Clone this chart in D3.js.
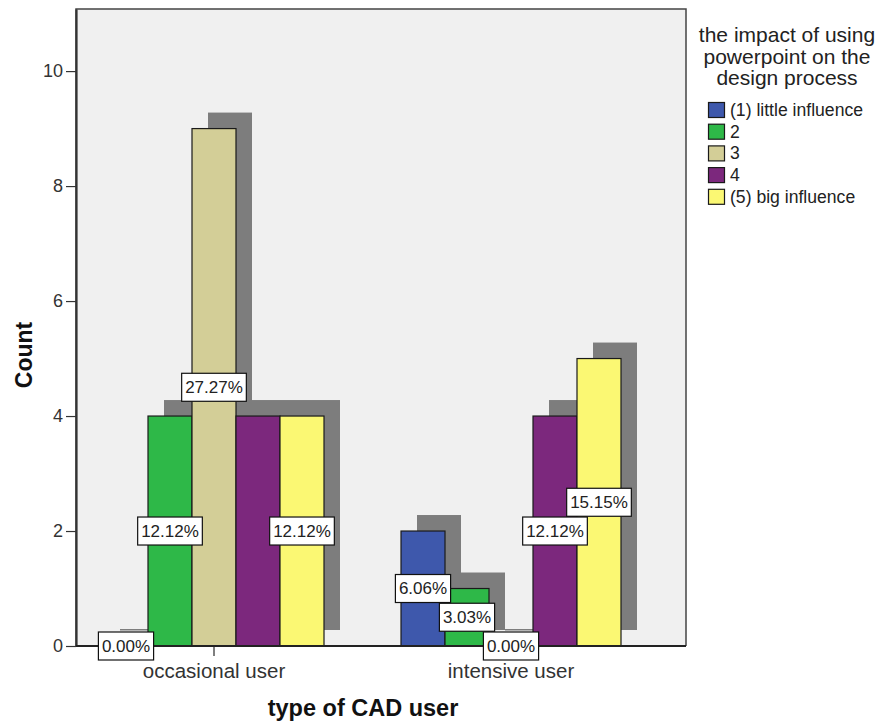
<!DOCTYPE html>
<html>
<head>
<meta charset="utf-8">
<script src="https://cdn.jsdelivr.net/npm/d3@7"></script>
<style>
  html, body { margin: 0; padding: 0; background: #fff; }
  svg { display: block; font-family: "Liberation Sans", Arial, sans-serif; }
</style>
</head>
<body>
<svg id="chart" width="889" height="723"></svg>
<script>
// Clustered bar chart: count of respondents by CAD user type and rated impact of PowerPoint
const categories = ["occasional user", "intensive user"];
const seriesNames = ["(1) little influence", "2", "3", "4", "(5) big influence"];
const seriesColors = ["#3E58AC", "#2EB848", "#D3CE97", "#7C287D", "#FBF873"];
const occasionalCounts = [0, 4, 9, 4, 4];
const intensiveCounts = [2, 1, 0, 4, 5];
const yTicks = [0, 2, 4, 6, 8, 10];
const legendTitle = ["the impact of using", "powerpoint on the", "design process"];

const countsByCategory = [occasionalCounts, intensiveCounts];
const total = d3.sum(countsByCategory.flat());

const svg = d3.select("#chart");
const plot = { left: 76, right: 686, top: 9, bottom: 646 };

const y = d3.scaleLinear().domain([0, 11.08]).range([plot.bottom, plot.top]);
const x0 = d3.scaleBand().domain(categories).range([65.5, 659.5]).padding(0);
const x1 = d3.scaleBand().domain(seriesNames).range([-110, 110]).padding(0);

// plot background
svg.append("rect")
  .attr("x", plot.left).attr("y", plot.top)
  .attr("width", plot.right - plot.left).attr("height", plot.bottom - plot.top)
  .attr("fill", "#F0F0F0");

const data = [];
categories.forEach((c, ci) => {
  seriesNames.forEach((s, si) => {
    data.push({ cat: c, series: s, si, value: countsByCategory[ci][si] });
  });
});

const shadowDx = 16, shadowDy = -16;
const barX = d => x0(d.cat) + x0.bandwidth() / 2 + x1(d.series);

// drop shadows behind the bars
svg.append("g").selectAll("rect").data(data).join("rect")
  .attr("x", d => barX(d) + shadowDx)
  .attr("y", d => y(d.value) + shadowDy - (d.value === 0 ? 1 : 0))
  .attr("width", x1.bandwidth())
  .attr("height", d => Math.max(1.5, y(0) - y(d.value)))
  .attr("fill", "#7D7D7D");

// bars
svg.append("g").selectAll("rect").data(data.filter(d => d.value > 0)).join("rect")
  .attr("x", barX)
  .attr("y", d => y(d.value))
  .attr("width", x1.bandwidth())
  .attr("height", d => y(0) - y(d.value))
  .attr("fill", d => seriesColors[d.si])
  .attr("stroke", "#1a1a1a")
  .attr("stroke-width", 1.2);

// frame
svg.append("path")
  .attr("d", `M${plot.left},${plot.bottom}V${plot.top}H${plot.right}V${plot.bottom}`)
  .attr("fill", "none").attr("stroke", "#444").attr("stroke-width", 1.5);

// y axis
const yAxis = d3.axisLeft(y).tickValues(yTicks).tickSize(10).tickSizeOuter(0)
  .tickPadding(3).tickFormat(d3.format("d"));
const gy = svg.append("g").attr("transform", `translate(${plot.left},0)`).call(yAxis);
gy.select(".domain").attr("stroke", "#333").attr("stroke-width", 2.2);
gy.selectAll(".tick line").attr("stroke", "#333").attr("stroke-width", 1.2);
gy.selectAll(".tick text").attr("font-size", 18).attr("fill", "#333")
  .attr("font-family", "Liberation Sans, Arial, sans-serif");

// x axis
const xAxis = d3.axisBottom(x0).tickSize(10).tickPadding(7);
const gx = svg.append("g").attr("transform", `translate(0,${plot.bottom})`).call(xAxis);
gx.select(".domain").remove();
svg.append("line")
  .attr("x1", plot.left).attr("x2", plot.right)
  .attr("y1", plot.bottom).attr("y2", plot.bottom)
  .attr("stroke", "#222").attr("stroke-width", 2);
gx.selectAll(".tick line").attr("stroke", "#555").attr("stroke-width", 1.5);
gx.selectAll(".tick text").attr("font-size", 20.5).attr("fill", "#333")
  .attr("font-family", "Liberation Sans, Arial, sans-serif");

// axis titles
svg.append("text")
  .attr("transform", `translate(32,355) rotate(-90)`)
  .attr("text-anchor", "middle")
  .attr("font-size", 23).attr("font-weight", "bold").attr("fill", "#111")
  .text("Count");
svg.append("text")
  .attr("x", 363).attr("y", 716)
  .attr("text-anchor", "middle")
  .attr("font-size", 23.5).attr("font-weight", "bold").attr("fill", "#111")
  .text("type of CAD user");

// percentage labels at mid-height of each bar; a label that would collide
// with one already placed in its group is skipped
const fmt = v => (v / total * 100).toFixed(2) + "%";
const labelLayer = svg.append("g");
const placed = [];
const overlaps = (a, b) =>
  Math.min(a.x2, b.x2) - Math.max(a.x1, b.x1) > 3 &&
  Math.min(a.y2, b.y2) - Math.max(a.y1, b.y1) > 3;

categories.forEach(c => {
  const group = data.filter(d => d.cat === c).slice().reverse();
  group.forEach(d => {
    const cx = barX(d) + x1.bandwidth() / 2;
    const cy = y(d.value / 2);
    const g = labelLayer.append("g");
    const t = g.append("text")
      .attr("x", cx).attr("y", cy)
      .attr("text-anchor", "middle").attr("dominant-baseline", "central")
      .attr("font-size", 17).attr("fill", "#222")
      .text(fmt(d.value));
    const w = t.node().getComputedTextLength() + 7;
    const h = 28;
    const box = { x1: cx - w / 2, x2: cx + w / 2, y1: cy - h / 2, y2: cy + h / 2 };
    if (placed.some(p => overlaps(p, box))) { g.remove(); return; }
    placed.push(box);
    g.insert("rect", "text")
      .attr("x", box.x1).attr("y", box.y1)
      .attr("width", w).attr("height", h)
      .attr("fill", "#fff").attr("stroke", "#111").attr("stroke-width", 1.2);
  });
});

// legend
const legend = svg.append("g");
legendTitle.forEach((line, i) => {
  legend.append("text")
    .attr("x", 787).attr("y", 42 + i * 21.5)
    .attr("text-anchor", "middle")
    .attr("font-size", 21).attr("fill", "#222")
    .text(line);
});
seriesNames.forEach((s, i) => {
  const cy = 110 + i * 21.7;
  legend.append("rect")
    .attr("x", 708.5).attr("y", cy - 7.5)
    .attr("width", 16).attr("height", 15)
    .attr("fill", seriesColors[i]).attr("stroke", "#1a1a1a").attr("stroke-width", 1.2);
  legend.append("text")
    .attr("x", 730).attr("y", cy)
    .attr("dominant-baseline", "central")
    .attr("font-size", 17.6).attr("fill", "#222")
    .text(s);
});
</script>
</body>
</html>
